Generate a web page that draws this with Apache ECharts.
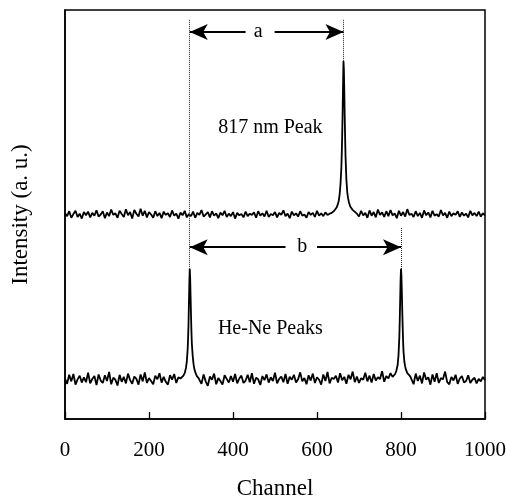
<!DOCTYPE html>
<html>
<head>
<meta charset="utf-8">
<script src="https://cdn.jsdelivr.net/npm/echarts@6/dist/echarts.min.js"></script>
<style>html,body{margin:0;padding:0;background:#fff;}#chart{width:506px;height:497px;}</style>
</head>
<body>
<div id="chart"></div>
<script>
// ---- Data ----
const xTicks = [0, 200, 400, 600, 800, 1000];
const xTitle = 'Channel';
const yTitle = 'Intensity (a. u.)';

// Upper trace (817 nm peak): baseline sampled every 5 channels
const upperLeftStart = 0, upperStep = 5;
const upperLeftIntensity = [
50.3,49.6,50.8,49.2,50.1,50.9,49.4,50.2,49.0,50.6,
49.8,50.7,49.3,50.4,49.7,51.0,49.5,50.0,50.8,49.1,
50.5,49.6,51.2,49.9,50.3,49.2,50.9,50.1,49.4,51.3,
49.8,50.6,49.0,51.1,50.2,49.5,51.4,49.7,50.9,49.3,
50.6,50.0,49.2,50.8,49.6,50.4,49.1,50.7,49.9,50.3,
49.4,51.0,49.7,50.2,49.0,50.5,49.8,50.9,49.3,50.1,
49.6,50.7,49.2,50.4,49.9,51.1,49.5,50.0,50.6,49.3,
50.8,49.7,50.3,49.1,50.5,49.8,50.9,49.4,50.2,49.6,
50.6,49.0,50.4,49.8,50.1,49.3,50.7,49.6,50.2,49.9,
50.5,49.2,50.8,49.7,50.3,49.5,50.9,49.4,50.1,49.8,
50.6,49.3,50.4,49.9,51.0,49.6,50.2,49.1,50.7,49.8,
50.3,49.5,50.8,49.7,50.0,49.2,50.6,49.9,50.4,49.4,
50.9,49.7,50.3,49.6,50.5,49.9,50.2,50.4];
const upperPeakChannels = [638,641,644,647,650,652,654,656,658,659,660,661,662,663,664,665,666,667,668,670,672,674,676,679,682,686,690];
const upperPeakIntensity = [50.6,50.9,51.3,51.8,52.6,53.5,55.0,57.5,61.5,65,69.5,75,81.5,87.5,85.5,80,74,68.5,64,58.5,55.5,54,53,52,51.5,51.0,50.6];
const upperRightStart = 695;
const upperRightIntensity = [
50.2,49.5,50.9,49.8,50.4,49.2,51.0,49.7,50.6,49.3,
51.2,49.9,50.5,49.4,50.8,49.6,51.1,49.8,50.3,49.1,
50.9,49.7,50.6,49.5,51.3,49.9,50.2,49.4,50.8,49.6,
50.4,49.2,51.0,49.8,50.5,49.3,50.9,49.7,50.1,49.5,
51.1,49.8,50.4,49.2,50.7,49.6,50.3,49.9,50.8,49.4,
50.5,49.7,50.2,49.3,50.9,49.8,50.4,49.6,50.7,49.5,
50.3,49.8];

// Lower trace (He-Ne peaks)
const lowerStep = 5;
const lowerSeg1Start = 0;
const lowerSeg1Intensity = [
9.9,8.6,10.8,9.2,11.0,8.4,9.7,10.6,8.9,10.2,
9.0,11.3,8.7,9.8,10.5,8.3,10.9,9.4,8.8,10.7,
9.3,11.5,8.5,10.1,9.6,8.2,10.8,9.1,10.3,8.7,
11.1,9.5,8.6,10.4,9.8,8.4,10.9,9.2,11.4,8.8,
10.0,9.3,8.5,10.6,9.7,11.2,8.9,10.3,9.1,8.4,
10.7,9.6,11.0,8.8,10.2,9.9];
const lowerPeak1Channels = [279,282,285,288,290,292,293,294,295,296,297,298,299,300,301,302,304,306,308,311,314,318,322];
const lowerPeak1Intensity = [10.2,10.6,11.2,12.5,14,17,19.5,23,28,33,36.7,34.5,30,25.5,21.5,18.5,15.5,13.5,12.2,11.2,10.5,10.0,9.8];
const lowerSeg2Start = 325;
const lowerSeg2Intensity = [
8.6,10.9,9.2,8.1,10.4,9.6,11.1,8.5,10.0,9.3,
8.4,10.7,9.8,8.9,10.5,9.1,11.0,8.7,9.9,10.6,
8.8,9.4,10.8,9.0,11.2,8.6,10.1,9.7,8.3,10.5,
9.5,10.9,8.9,10.2,9.3,11.3,8.7,9.8,10.4,9.0,
11.0,8.6,10.3,9.6,10.8,8.9,9.7,11.4,9.2,10.0,
8.5,10.7,9.4,11.1,8.8,10.2,9.6,8.4,10.9,9.3,
11.5,8.7,10.1,9.8,10.6,8.9,11.2,9.5,10.3,8.6,
10.8,9.7,11.6,9.0,10.4,8.8,10.0,9.6,11.3,9.2,
10.6,8.9,11.0,9.4,10.2,9.8,11.7,9.1,10.5,9.9,
11.2,10.3];
const lowerPeak2Channels = [783,786,789,792,794,796,797,798,799,800,801,802,803,804,805,806,808,810,812,815,818,822,826];
const lowerPeak2Intensity = [10.6,11.0,11.8,13.2,15.5,20,24,29,34,36.7,35,31,26.5,22.5,19,16.5,14,12.8,12,11.2,10.8,10.4,10.0];
const lowerSeg3Start = 830;
const lowerSeg3Intensity = [
8.5,11.1,9.3,10.6,8.7,11.4,9.6,10.2,8.4,10.9,
9.1,11.2,8.8,10.0,9.7,11.6,9.0,8.5,10.3,9.4,
10.8,8.6,9.9,10.5,8.9,9.3,10.7,8.8,9.6,10.1,
8.7,9.8,9.2,10.3,9.5];

// Annotations (channel, intensity level)
const peakA = 663, peakB1 = 297, peakB2 = 800;
const annoTopLevel = 97.6;       // top of dotted guides
const arrowALevel = 94.6, arrowBLevel = 42.0;
const guideBTopLevel = 46.7;
const upperPeakTop = 87.5, lowerPeakTop = 36.7;
const arrowAGap = [430, 499], arrowBGap = [525, 600];
const textLabels = [
  {ch: 460, val: 94.6, text: 'a'},
  {ch: 565, val: 42.0, text: 'b'},
  {ch: 489, val: 71.1, text: '817 nm Peak'},
  {ch: 489, val: 22.0, text: 'He-Ne Peaks'}
];

// ---- build ----
function seg(start, step, vals) { return vals.map((v, i) => [start + i * step, v]); }
function zip(chs, vals) { return chs.map((c, i) => [c, vals[i]]); }
const upperData = [].concat(
  seg(upperLeftStart, upperStep, upperLeftIntensity),
  zip(upperPeakChannels, upperPeakIntensity),
  seg(upperRightStart, upperStep, upperRightIntensity));
const lowerData = [].concat(
  seg(lowerSeg1Start, lowerStep, lowerSeg1Intensity),
  zip(lowerPeak1Channels, lowerPeak1Intensity),
  seg(lowerSeg2Start, lowerStep, lowerSeg2Intensity),
  zip(lowerPeak2Channels, lowerPeak2Intensity),
  seg(lowerSeg3Start, lowerStep, lowerSeg3Intensity));

const FONT = 'Liberation Serif';
const dotted = {type: 'dotted', color: '#222', width: 1};
const arrowLine = {type: 'solid', color: '#000', width: 2};
const ARW = [12, 18];
function guide(ch, y0, y1) { return [{coord: [ch, y0], symbol: 'none', lineStyle: dotted}, {coord: [ch, y1], symbol: 'none'}]; }
function arrowSeg(x0, x1, y, startArrow) {
  return [
    {coord: [x0, y], symbol: startArrow ? 'arrow' : 'none', symbolSize: ARW, lineStyle: arrowLine},
    {coord: [x1, y], symbol: startArrow ? 'none' : 'arrow', symbolSize: ARW}
  ];
}

const chart = echarts.init(document.getElementById('chart'), null, {renderer: 'canvas'});
chart.setOption({
  animation: false,
  backgroundColor: '#fff',
  grid: {left: 65, right: 21, top: 10, bottom: 78, show: true, borderColor: '#000', borderWidth: 1.5,
    backgroundColor: 'transparent', containLabel: false, outerBoundsMode: 'none'},
  xAxis: {
    type: 'value', min: 0, max: 1000, interval: 200,
    name: xTitle, nameLocation: 'middle', nameGap: 58,
    nameTextStyle: {fontFamily: FONT, fontSize: 23, color: '#000'},
    axisLine: {show: true, lineStyle: {color: '#000', width: 1.5}},
    axisTick: {show: true, inside: true, length: 7, lineStyle: {color: '#000', width: 1.3}},
    axisLabel: {fontFamily: FONT, fontSize: 21, color: '#000', margin: 21,
      formatter: v => xTicks.indexOf(v) >= 0 ? String(v) : ''},
    splitLine: {show: false}
  },
  yAxis: {
    type: 'value', min: 0, max: 100,
    name: yTitle, nameLocation: 'middle', nameGap: 33, nameRotate: 90,
    nameTextStyle: {fontFamily: FONT, fontSize: 23, color: '#000'},
    axisLine: {show: true, lineStyle: {color: '#000', width: 1.5}},
    axisTick: {show: false}, axisLabel: {show: false}, splitLine: {show: false}
  },
  series: [
    {type: 'line', data: upperData, showSymbol: false, symbol: 'none', lineStyle: {color: '#000', width: 1.8}, z: 3},
    {type: 'line', data: lowerData, showSymbol: false, symbol: 'none', lineStyle: {color: '#000', width: 1.8}, z: 3},
    {type: 'scatter', data: [], silent: true,
      markLine: {silent: true, animation: false, label: {show: false}, symbol: ['none', 'none'],
        emphasis: {disabled: true},
        data: [
          guide(peakB1, annoTopLevel, lowerPeakTop),
          guide(peakA, annoTopLevel, upperPeakTop),
          guide(peakB2, guideBTopLevel, lowerPeakTop),
          arrowSeg(peakB1, arrowAGap[0], arrowALevel, true),
          arrowSeg(arrowAGap[1], peakA, arrowALevel, false),
          arrowSeg(peakB1, arrowBGap[0], arrowBLevel, true),
          arrowSeg(arrowBGap[1], peakB2, arrowBLevel, false)
        ]}
    },
    {type: 'scatter', silent: true, symbol: 'circle', symbolSize: 1, itemStyle: {color: 'transparent'},
      data: textLabels.map(t => ({value: [t.ch, t.val], name: t.text})),
      label: {show: true, position: 'inside', formatter: p => p.name, fontFamily: FONT, fontSize: 20,
        color: '#000', textBorderWidth: 0, opacity: 1},
      z: 5}
  ]
});
</script>
</body>
</html>
